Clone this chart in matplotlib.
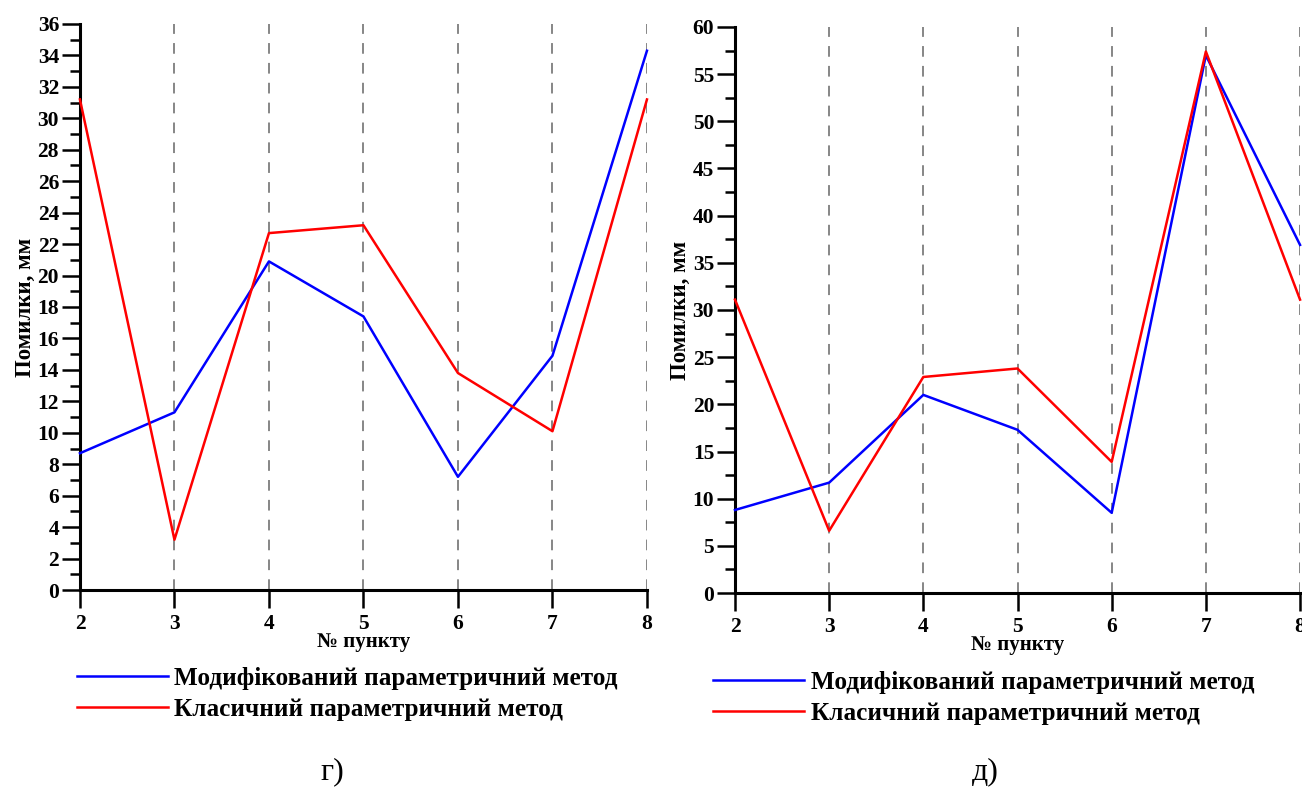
import numpy as np
import matplotlib.pyplot as plt
from matplotlib.ticker import MultipleLocator
plt.rcParams["font.family"] = "Liberation Serif"

points = [2, 3, 4, 5, 6, 7, 8]

# panel г)
mod_g = [8.7, 11.3, 20.9, 17.4, 7.2, 14.9, 34.3]
cls_g = [31.2, 3.2, 22.7, 23.2, 13.8, 10.1, 31.2]

# panel д)
mod_d = [8.8, 11.7, 21.0, 17.3, 8.5, 57.0, 36.9]
cls_d = [31.1, 6.6, 22.9, 23.8, 13.9, 57.4, 31.1]

lbl_mod = "Модифікований параметричний метод"
lbl_cls = "Класичний параметричний метод"


def panel(ax, mod, cls, ymax, major, minor):
    ax.plot(points, mod, c="#0000ff", lw=1.8, label=lbl_mod, clip_on=False, zorder=3)
    ax.plot(points, cls, c="#ff0000", lw=1.8, label=lbl_cls, clip_on=False, zorder=3)
    for x in points[1:]:
        ax.axvline(x, color="0.4", lw=1.1, ls=(0, (7, 6)), zorder=1)
    ax.set_xlim(2, 8)
    ax.set_ylim(0, ymax)
    ax.set_xticks(points)
    ax.yaxis.set_major_locator(MultipleLocator(major))
    ax.yaxis.set_minor_locator(MultipleLocator(minor))
    for s in ["top", "right"]:
        ax.spines[s].set_visible(False)
    for s in ["left", "bottom"]:
        ax.spines[s].set_linewidth(2.2)
    ax.tick_params(axis="y", which="major", direction="out", length=13, width=1.8, pad=2)
    ax.tick_params(axis="y", which="minor", direction="out", length=7, width=1.8)
    ax.tick_params(axis="x", which="major", direction="out", length=13, width=1.8, pad=4)
    for t in ax.get_xticklabels() + ax.get_yticklabels():
        t.set_fontsize(15.5)
        t.set_fontweight("bold")
    ax.set_xlabel("№ пункту", fontsize=15, fontweight="bold", labelpad=-1)
    ax.set_ylabel("Помилки, мм", fontsize=16.5, fontweight="bold", labelpad=1)


fig = plt.figure(figsize=(13.02, 7.89), dpi=100)
ax1 = fig.add_axes([0.0614, 0.2522, 0.4355, 0.7174])
ax2 = fig.add_axes([0.5645, 0.2484, 0.434, 0.7174])

panel(ax1, mod_g, cls_g, 36, 2, 1)
panel(ax2, mod_d, cls_d, 60, 5, 2.5)

leg_kw = dict(frameon=False, prop={"weight": "bold", "size": 18.2}, handlelength=3.6,
              handletextpad=0.25, labelspacing=0.32, borderpad=0, borderaxespad=0)
ax1.legend(loc="upper left", bbox_to_anchor=(0.059, 0.155), bbox_transform=fig.transFigure, **leg_kw)
ax2.legend(loc="upper left", bbox_to_anchor=(0.548, 0.150), bbox_transform=fig.transFigure, **leg_kw)

fig.text(0.255, 0.013, "г)", fontsize=23, ha="center")
fig.text(0.757, 0.013, "д)", fontsize=23, ha="center")

plt.savefig("out.png", dpi=100)
